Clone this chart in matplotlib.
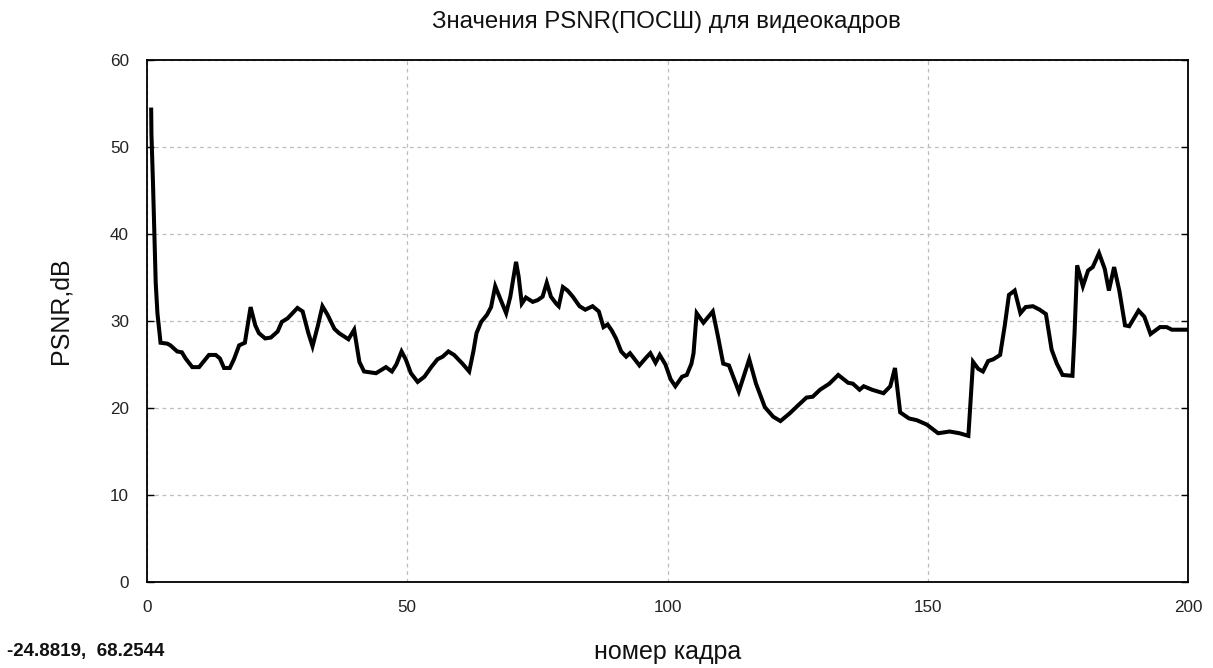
import matplotlib

matplotlib.use("Agg")

import matplotlib.pyplot as plt

# frame number / PSNR value pairs
FRAMES = [
    0.8, 0.85, 1.15, 1.67, 2.0, 2.6, 3.9, 4.5, 5.8, 6.7, 7.4, 8.7, 10.0,
    11.9, 13.2, 14.0, 14.8, 15.9, 16.7, 17.7, 18.8, 19.9, 20.8, 21.5, 22.7,
    23.8, 25.1, 25.9, 27.0, 28.9, 29.9, 31.0, 31.8, 32.8, 33.7, 34.7, 36.0,
    36.9, 38.7, 39.8, 40.8, 41.7, 44.0, 45.9, 47.05, 47.9, 48.9, 49.7, 50.7,
    52.0, 53.3, 54.6, 55.8, 56.8, 57.9, 59.0, 60.6, 61.9, 62.7, 63.3, 64.2,
    65.3, 66.1, 66.9, 67.7, 69.0, 69.8, 70.9, 71.4, 72.0, 72.8, 74.1, 75.05,
    76.0, 76.8, 77.6, 78.6, 79.1, 79.9, 80.8, 81.8, 83.1, 84.2, 85.6, 86.8,
    87.7, 88.5, 89.3, 90.1, 91.1, 92.05, 92.8, 94.6, 95.9, 96.7, 97.7, 98.5,
    99.6, 100.6, 101.5, 102.8, 103.7, 104.6, 105.0, 105.6, 106.9, 108.7,
    109.7, 110.7, 111.8, 113.7, 115.7, 117.0, 118.7, 120.3, 121.7, 123.5,
    124.9, 126.7, 127.9, 129.3, 131.1, 132.8, 134.7, 135.6, 136.9, 137.7,
    139.3, 141.5, 142.8, 143.7, 144.7, 146.4, 147.9, 149.8, 152.0, 154.2,
    156.1, 157.8, 158.7, 159.7, 160.6, 161.6, 162.6, 163.9, 164.8, 165.6,
    166.7, 167.8, 168.8, 170.2, 171.5, 172.7, 173.8, 174.8, 175.9, 177.8,
    178.2, 178.7, 179.8, 180.8, 181.7, 182.9, 184.0, 184.8, 185.8, 186.8,
    187.9, 188.7, 190.5, 191.6, 192.8, 194.6, 195.9, 196.9, 200.0,
]
PSNR = [
    54.3, 51.5, 45.8, 34.4, 30.9, 27.5, 27.4, 27.2, 26.5, 26.4, 25.7, 24.7, 24.7,
    26.1, 26.1, 25.7, 24.6, 24.6, 25.6, 27.2, 27.5, 31.6, 29.5, 28.6, 28.0,
    28.1, 28.8, 29.9, 30.3, 31.5, 31.1, 28.6, 27.1, 29.4, 31.7, 30.7, 29.1,
    28.6, 27.9, 29.0, 25.3, 24.2, 24.0, 24.7, 24.2, 25.0, 26.5, 25.6, 24.0,
    23.0, 23.6, 24.7, 25.6, 25.9, 26.5, 26.1, 25.1, 24.2, 26.5, 28.6, 29.9,
    30.7, 31.6, 34.0, 32.8, 30.9, 32.8, 36.8, 35.1, 32.0, 32.7, 32.2, 32.4,
    32.8, 34.4, 32.8, 32.0, 31.7, 33.9, 33.5, 32.8, 31.7, 31.3, 31.7, 31.1,
    29.3, 29.6, 28.9, 28.0, 26.5, 25.9, 26.3, 24.9, 25.8, 26.3, 25.2, 26.1,
    25.0, 23.3, 22.5, 23.6, 23.8, 25.1, 26.3, 30.9, 29.8, 31.1,
    28.2, 25.1, 24.9, 21.9, 25.6, 22.8, 20.1, 19.0, 18.5, 19.4,
    20.2, 21.2, 21.3, 22.1, 22.8, 23.8, 22.9, 22.8, 22.1, 22.5,
    22.1, 21.7, 22.5, 24.6, 19.5, 18.8, 18.6, 18.1, 17.1, 17.3,
    17.1, 16.8, 25.3, 24.5, 24.2, 25.4, 25.6, 26.1, 29.5, 33.0,
    33.5, 30.9, 31.6, 31.7, 31.3, 30.8, 26.7, 25.1, 23.8, 23.7,
    28.6, 36.4, 34.0, 35.8, 36.2, 37.8, 36.0, 33.5, 36.2, 33.5,
    29.5, 29.4, 31.2, 30.5, 28.5, 29.3, 29.3, 29.0, 29.0,
]
X_TICKS = [0, 50, 100, 150, 200]
Y_TICKS = [0, 10, 20, 30, 40, 50, 60]

TITLE = "Значения PSNR(ПОСШ) для видеокадров"
XLABEL = "номер кадра"
YLABEL = "PSNR,dB"
CURSOR_TEXT = "-24.8819,  68.2544"

plt.rcParams["font.family"] = ["Liberation Sans", "DejaVu Sans"]


def main() -> None:
    fig = plt.figure(figsize=(12.13, 6.68), dpi=100)
    ax = fig.add_axes([0.1212, 0.1287, 0.8582, 0.7815])

    ax.plot(FRAMES, PSNR, color="black", lw=2.9, solid_joinstyle="miter")

    ax.set_xlim(0, 200)
    ax.set_ylim(0, 60)
    ax.set_xticks(X_TICKS)
    ax.set_yticks(Y_TICKS)
    ax.grid(color="#bdbdbd", ls=(0, (3, 3)), lw=0.9)
    ax.tick_params(direction="in", length=5, width=1, labelsize=12.3,
                   labelcolor="#222222", left=True, right=True,
                   top=False, bottom=False, pad=13)
    for spine in ax.spines.values():
        spine.set_color("black")
        spine.set_linewidth(1.3)

    fig.text(0.549, 0.967, TITLE, ha="center", va="center", fontsize=17.3,
             color="#111111")
    fig.text(0.55, 0.024, XLABEL, ha="center", va="center", fontsize=18,
             color="#111111")
    fig.text(0.05, 0.535, YLABEL, ha="center", va="center", fontsize=18,
             rotation=90, color="#111111")
    fig.text(0.006, 0.012, CURSOR_TEXT, ha="left", va="bottom", fontsize=13.5,
             fontweight="bold", color="#111111")

    fig.savefig("out.png", dpi=100, facecolor="white")


if __name__ == "__main__":
    main()
